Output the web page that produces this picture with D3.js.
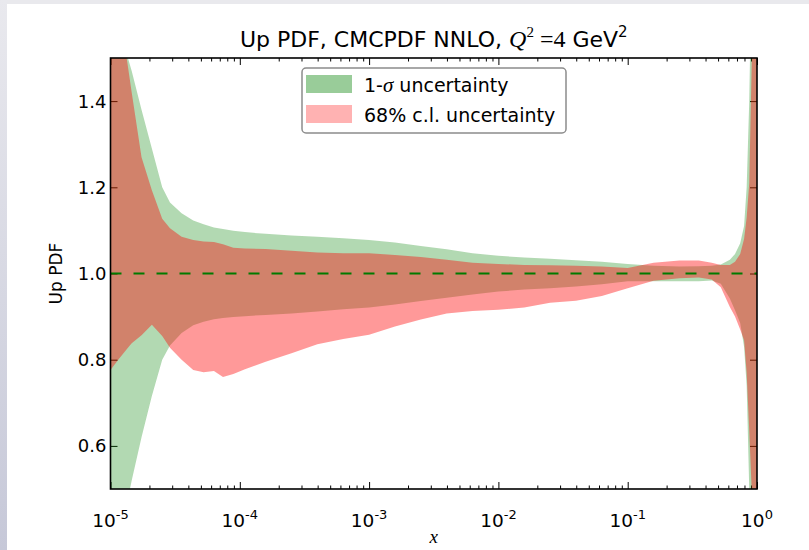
<!DOCTYPE html>
<html><head><meta charset="utf-8">
<script src="https://cdn.jsdelivr.net/npm/d3@7"></script>
<style>body{margin:0;background:#fff} svg{display:block}</style>
</head><body><svg id="c" width="809" height="550"></svg>
<script>
// ---- data ----
const xGrid = [1e-5,1.148e-5,1.349e-5,1.459e-5,1.738e-5,2.089e-5,2.512e-5,2.884e-5,3.548e-5,4.365e-5,5.248e-5,6.31e-5,7.413e-5,8.913e-5,1.096e-4,1.585e-4,2.512e-4,3.981e-4,6.31e-4,1e-3,1.585e-3,2.512e-3,3.981e-3,6.31e-3,1e-2,1.585e-2,2.512e-2,3.981e-2,6.31e-2,0.1,0.1585,0.2512,0.3548,0.4467,0.5248,0.6166,0.6761,0.7413,0.7943,0.8318,0.871,0.912,0.955,1.0];
const sigmaHi = [1.64,1.57,1.505,1.47,1.38,1.29,1.2,1.165,1.14,1.123,1.114,1.107,1.103,1.099,1.096,1.092,1.088,1.085,1.082,1.078,1.072,1.064,1.056,1.047,1.041,1.037,1.034,1.031,1.027,1.022,1.018,1.016,1.017,1.018,1.021,1.032,1.045,1.07,1.11,1.2,1.4,1.75,2.2,2.8];
const sigmaLo = [0.27,0.36,0.47,0.52,0.62,0.716,0.80,0.833,0.862,0.88,0.888,0.894,0.897,0.899,0.901,0.904,0.907,0.912,0.917,0.921,0.928,0.936,0.944,0.951,0.958,0.963,0.966,0.97,0.975,0.982,0.982,0.982,0.982,0.984,0.976,0.942,0.915,0.885,0.83,0.74,0.5,0.3,0.1,-0.1];
const clHi = [1.75,1.62,1.49,1.42,1.27,1.193,1.127,1.105,1.085,1.078,1.074,1.073,1.068,1.06,1.058,1.057,1.053,1.049,1.047,1.047,1.043,1.038,1.032,1.025,1.022,1.02,1.019,1.018,1.016,1.013,1.025,1.03,1.03,1.025,1.02,1.02,1.027,1.045,1.08,1.13,1.21,1.5,2.0,2.6];
const clLo = [0.776,0.80,0.826,0.838,0.857,0.881,0.855,0.828,0.80,0.776,0.771,0.774,0.76,0.767,0.778,0.795,0.815,0.836,0.848,0.858,0.877,0.893,0.907,0.913,0.916,0.921,0.932,0.937,0.948,0.966,0.983,0.989,0.991,0.986,0.968,0.922,0.9,0.87,0.845,0.77,0.635,0.49,0.3,0.1];
const xTickExps = [-5,-4,-3,-2,-1,0];
const yTicks = [0.6,0.8,1.0,1.2,1.4];
const yTickLabels = ["0.6","0.8","1.0","1.2","1.4"];
const legendLabels = [["1-","σ"," uncertainty"],["68% c.l. uncertainty"]];
const refLine = 1.0;

// ---- layout ----
const W=809,H=550;
const m={l:110.5,r:757,t:58,b:489};
const svg=d3.select('#c');
const defs=svg.append('defs');
const g1=defs.append('linearGradient').attr('id','edge').attr('x1',0).attr('y1',0).attr('x2',0).attr('y2',1);
g1.append('stop').attr('offset','0%').attr('stop-color','#e9e9ee');
g1.append('stop').attr('offset','100%').attr('stop-color','#c6c8d8');
svg.append('rect').attr('width',W).attr('height',H).attr('fill','#e9e9ed');
svg.append('rect').attr('x',0).attr('y',0).attr('width',7).attr('height',H).attr('fill','url(#edge)');
svg.append('rect').attr('x',7).attr('y',4).attr('width',W-7).attr('height',H-4).attr('fill','#fff');

defs.append('clipPath').attr('id','plot').append('rect')
  .attr('x',m.l).attr('y',m.t).attr('width',m.r-m.l).attr('height',m.b-m.t);

const x=d3.scaleLog().domain([1e-5,1]).range([m.l,m.r]);
const y=d3.scaleLinear().domain([0.5,1.5]).range([m.b,m.t]);

// ticks (under the bands)
const major=xTickExps.map(e=>Math.pow(10,e));
const minor=[];
xTickExps.slice(0,-1).forEach(e=>{for(let k=2;k<=9;k++)minor.push(k*Math.pow(10,e));});
function styleAxis(s){s.select('.domain').remove();s.selectAll('line').attr('stroke','#000').attr('stroke-width',1);s.selectAll('text').remove();}
svg.append('g').attr('transform',`translate(0,${m.b})`).call(d3.axisBottom(x).tickValues(major).tickSize(-7).tickFormat('')).call(styleAxis);
svg.append('g').attr('transform',`translate(0,${m.b})`).call(d3.axisBottom(x).tickValues(minor).tickSize(-3.5).tickFormat('')).call(styleAxis);
svg.append('g').attr('transform',`translate(0,${m.t})`).call(d3.axisTop(x).tickValues(major).tickSize(-7).tickFormat('')).call(styleAxis);
svg.append('g').attr('transform',`translate(0,${m.t})`).call(d3.axisTop(x).tickValues(minor).tickSize(-3.5).tickFormat('')).call(styleAxis);
svg.append('g').attr('transform',`translate(${m.l},0)`).call(d3.axisLeft(y).tickValues(yTicks).tickSize(-7).tickFormat('')).call(styleAxis);
svg.append('g').attr('transform',`translate(${m.r},0)`).call(d3.axisRight(y).tickValues(yTicks).tickSize(-7).tickFormat('')).call(styleAxis);

// bands
const plot=svg.append('g').attr('clip-path','url(#plot)');
const area=d3.area().x(d=>x(d.x)).y0(d=>y(d.lo)).y1(d=>y(d.hi));
const sig=xGrid.map((v,i)=>({x:v,lo:sigmaLo[i],hi:sigmaHi[i]}));
const cl=xGrid.map((v,i)=>({x:v,lo:clLo[i],hi:clHi[i]}));
plot.append('path').datum(sig).attr('d',area).attr('fill','#008000').attr('fill-opacity',0.3);
plot.append('path').datum(cl).attr('d',area).attr('fill','#ff0000').attr('fill-opacity',0.4);
plot.append('line').attr('x1',m.l).attr('x2',m.r).attr('y1',y(refLine)).attr('y2',y(refLine))
  .attr('stroke','#007a00').attr('stroke-width',2).attr('stroke-dasharray','11,12');

// spines
svg.append('rect').attr('x',m.l).attr('y',m.t).attr('width',m.r-m.l).attr('height',m.b-m.t)
  .attr('fill','none').attr('stroke','#000').attr('stroke-width',1.6);

// tick labels
const sans="'DejaVu Sans', sans-serif";
const serif="'Liberation Serif', serif";
yTicks.forEach((v,i)=>{
  svg.append('text').attr('x',m.l-4).attr('y',y(v)+6.5).attr('text-anchor','end')
    .attr('font-family',sans).attr('font-size',18).text(yTickLabels[i]);
});
xTickExps.forEach(e=>{
  const t=svg.append('text').attr('x',x(Math.pow(10,e))).attr('y',527).attr('text-anchor','middle')
    .attr('font-family',sans).attr('font-size',18.5);
  t.append('tspan').text('10');
  t.append('tspan').attr('dy',-8).attr('font-size',13).text(String(e));
});

// axis labels
svg.append('text').attr('transform',`translate(62,${(m.t+m.b)/2}) rotate(-90)`).attr('text-anchor','middle')
  .attr('font-family',sans).attr('font-size',17).text('Up PDF');
svg.append('text').attr('x',(m.l+m.r)/2).attr('y',543).attr('text-anchor','middle')
  .attr('font-family',serif).attr('font-style','italic').attr('font-size',19).text('x');

// title
const tt=svg.append('text').attr('x',(m.l+m.r)/2).attr('y',47).attr('text-anchor','middle')
  .attr('font-family',sans).attr('font-size',22);
tt.append('tspan').text('Up PDF, CMCPDF NNLO, ');
tt.append('tspan').attr('font-family',serif).attr('font-style','italic').attr('font-size',24).text('Q');
tt.append('tspan').attr('font-family',serif).attr('font-size',15).attr('dy',-10).text('2');
tt.append('tspan').attr('font-family',serif).attr('font-size',24).attr('dy',10).text(' =4');
tt.append('tspan').text(' GeV');
tt.append('tspan').attr('font-size',15).attr('dy',-10).text('2');

// legend
const lg=svg.append('g');
lg.append('rect').attr('x',302).attr('y',68).attr('width',264).attr('height',65).attr('rx',4)
  .attr('fill','#fff').attr('stroke','#8c8c8c').attr('stroke-width',1.5);
const legCols=[{c:'#008000',o:0.4},{c:'#ff0000',o:0.3}];
legendLabels.forEach((parts,i)=>{
  const yy=75+i*30;
  lg.append('rect').attr('x',306).attr('y',yy).attr('width',46).attr('height',18)
    .attr('fill',legCols[i].c).attr('fill-opacity',legCols[i].o);
  const t=lg.append('text').attr('x',364).attr('y',yy+16.5).attr('font-family',sans).attr('font-size',19);
  parts.forEach(p=>{
    const s=t.append('tspan').text(p);
    if(p==='σ') s.attr('font-family',serif).attr('font-style','italic').attr('font-size',21);
  });
});
</script></body></html>
